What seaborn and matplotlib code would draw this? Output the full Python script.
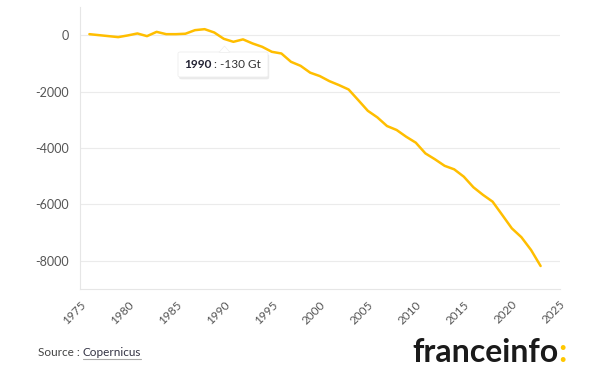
import matplotlib
matplotlib.use("Agg")
import matplotlib.pyplot as plt
import seaborn as sns
import pandas as pd
from matplotlib.patches import FancyBboxPatch, Polygon

years = list(range(1976, 2024))
mass_change = [35, 0, -35, -70, -10, 60, -35, 117, 35, 35, 50, 177, 212, 95,
               -130, -236, -150, -295, -413, -590, -650, -945, -1087, -1330,
               -1450, -1630, -1770, -1925, -2300, -2680, -2915, -3220, -3360,
               -3600, -3810, -4190, -4400, -4630, -4755, -5015, -5390, -5660,
               -5900, -6370, -6845, -7160, -7610, -8180]
x_ticks = [1975, 1980, 1985, 1990, 1995, 2000, 2005, 2010, 2015, 2020, 2025]
y_ticks = [0, -2000, -4000, -6000, -8000]
tooltip_year = 1990
tooltip_value = -130

df = pd.DataFrame({"year": years, "value": mass_change})

sns.set_theme(style="white")
plt.rcParams['font.family'] = ['Lato', 'DejaVu Sans']

fig = plt.figure(figsize=(6, 3.85), dpi=100)
ax = fig.add_axes([0.133, 0.249, 0.8, 0.733])

sns.lineplot(data=df, x="year", y="value", ax=ax, color="#FFBE00", linewidth=1.8)

ax.set_xlim(1975, 2025)
ax.set_ylim(-9000, 1000)
ax.set_xticks(x_ticks)
ax.set_yticks(y_ticks)
ax.set_xticklabels([str(t) for t in x_ticks], rotation=45, ha="right",
                   rotation_mode="anchor", fontsize=8.5, color="#555555")
ax.set_yticklabels([str(t) for t in y_ticks], fontsize=9, color="#555555")
ax.set_xlabel("")
ax.set_ylabel("")
ax.grid(axis="y", color="#EBEBEB", linewidth=0.8)
ax.grid(axis="x", visible=False)
for s in ["top", "right"]:
    ax.spines[s].set_visible(False)
for s in ["left", "bottom"]:
    ax.spines[s].set_color("#E6E6E6")
    ax.spines[s].set_linewidth(0.8)
ax.tick_params(axis="x", length=5, color="#E6E6E6", pad=2)
ax.tick_params(axis="y", length=0, pad=8)

# tooltip
tx0, ty0, tw, th = 178 / 600, 1 - 77 / 385, 90 / 600, 25 / 385
box = FancyBboxPatch((tx0 + 0.002, ty0 - 0.006), tw, th, boxstyle="round,pad=0,rounding_size=0.004",
                     transform=fig.transFigure, facecolor="#DDDDDD", edgecolor="none", alpha=0.6, zorder=4)
fig.patches.append(box)
box2 = FancyBboxPatch((tx0, ty0), tw, th, boxstyle="round,pad=0,rounding_size=0.004",
                      transform=fig.transFigure, facecolor="white", edgecolor="#EEEEEE", linewidth=0.6, zorder=5)
fig.patches.append(box2)
tri = Polygon([(219 / 600, ty0 + th - 0.001), (230 / 600, ty0 + th - 0.001), (224.5 / 600, 1 - 46 / 385)],
              closed=True, transform=fig.transFigure, facecolor="white", edgecolor="#EEEEEE",
              linewidth=0.5, zorder=5)
fig.patches.append(tri)
t1 = fig.text(tx0 + 6 / 600, ty0 + th / 2, f"{tooltip_year}", fontsize=8.5, fontweight="bold",
              color="#222233", va="center", ha="left", zorder=6)
fig.canvas.draw()
bb = t1.get_window_extent()
fig.text(bb.x1 / 600, ty0 + th / 2, f" : {tooltip_value} Gt", fontsize=8.5,
         color="#333333", va="center", ha="left", zorder=6)

# source
s1 = fig.text(38 / 600, 1 - 352 / 385, "Source : ", fontsize=8.5, color="#444444", va="center", ha="left")
fig.canvas.draw()
bb = s1.get_window_extent()
s2 = fig.text(bb.x1 / 600, 1 - 352 / 385, "Copernicus", fontsize=8.5, color="#333344", va="center", ha="left")
fig.canvas.draw()
bb2 = s2.get_window_extent()
fig.add_artist(plt.Line2D([bb2.x0 / 600, bb2.x1 / 600], [(bb2.y0 - 1) / 385, (bb2.y0 - 1) / 385],
                          color="#AAAAAA", linewidth=0.8, transform=fig.transFigure))

# logo
l1 = fig.text(412 / 600, 1 - 362 / 385, "franceinfo", fontsize=23, fontweight="bold",
              color="#1A1A1A", va="baseline", ha="left")
fig.canvas.draw()
bb = l1.get_window_extent()
fig.text(bb.x1 / 600, 1 - 362 / 385, ":", fontsize=23, fontweight="bold",
         color="#FFC700", va="baseline", ha="left")

fig.savefig("out.png", dpi=100)
